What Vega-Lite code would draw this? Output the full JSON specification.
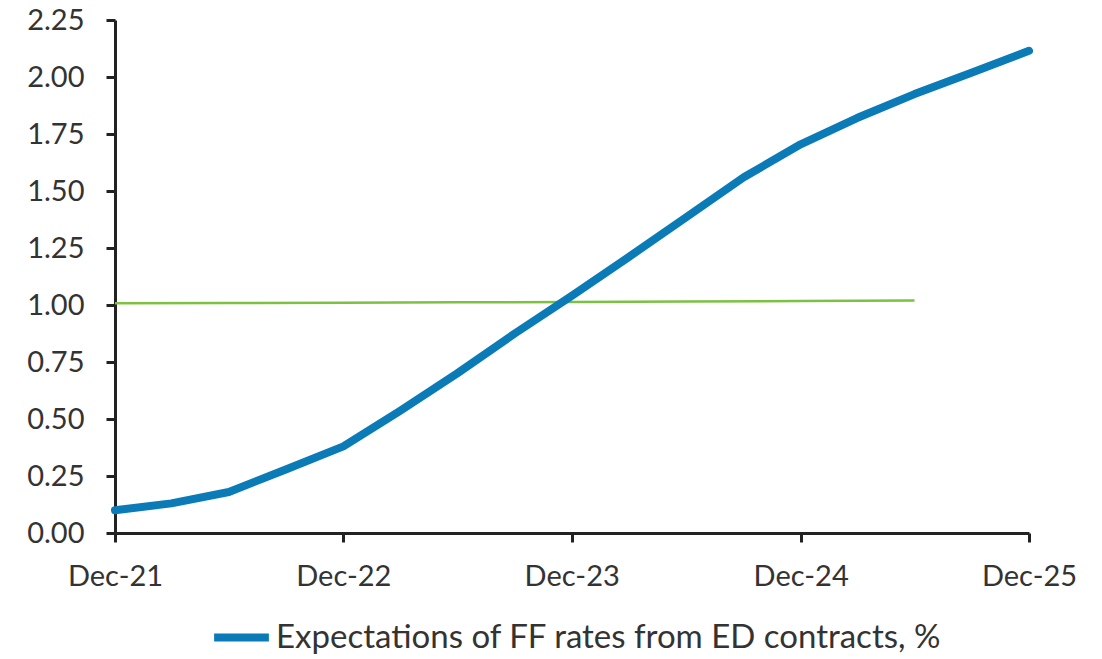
{
  "$schema": "https://vega.github.io/schema/vega-lite/v6.json",
  "width": 914,
  "height": 513,
  "autosize": {"type": "none"},
  "padding": {"left": 115, "top": 20, "right": 73, "bottom": 126},
  "background": "white",
  "config": {
    "view": {"stroke": null},
    "font": "Lato",
    "axis": {
      "domainColor": "#222222",
      "domainWidth": 3,
      "tickColor": "#222222",
      "tickWidth": 3,
      "tickSize": 9,
      "labelColor": "#333333",
      "labelFont": "Lato",
      "labelFontSize": 29,
      "grid": false,
      "title": null
    }
  },
  "datasets": {
    "ff": [
      {"date": "2021-12-01", "rate": 0.10},
      {"date": "2022-03-01", "rate": 0.13},
      {"date": "2022-06-01", "rate": 0.18},
      {"date": "2022-09-01", "rate": 0.28},
      {"date": "2022-12-01", "rate": 0.38},
      {"date": "2023-03-01", "rate": 0.535},
      {"date": "2023-06-01", "rate": 0.70},
      {"date": "2023-09-01", "rate": 0.875},
      {"date": "2023-12-01", "rate": 1.04},
      {"date": "2024-03-01", "rate": 1.21},
      {"date": "2024-06-01", "rate": 1.385},
      {"date": "2024-09-01", "rate": 1.56},
      {"date": "2024-12-01", "rate": 1.705},
      {"date": "2025-03-01", "rate": 1.82},
      {"date": "2025-06-01", "rate": 1.925},
      {"date": "2025-09-01", "rate": 2.02},
      {"date": "2025-12-01", "rate": 2.115}
    ],
    "ref": [
      {"date": "2021-12-01", "level": 1.008},
      {"date": "2022-06-01", "level": 1.009},
      {"date": "2022-12-01", "level": 1.010},
      {"date": "2023-06-01", "level": 1.012},
      {"date": "2023-12-01", "level": 1.013},
      {"date": "2024-06-01", "level": 1.015},
      {"date": "2024-12-01", "level": 1.017},
      {"date": "2025-06-01", "level": 1.020}
    ]
  },
  "layer": [
    {
      "data": {"name": "ref"},
      "mark": {"type": "line", "color": "#7cc142", "strokeWidth": 2.5},
      "encoding": {
        "x": {"field": "date", "type": "temporal"},
        "y": {"field": "level", "type": "quantitative"}
      }
    },
    {
      "data": {"name": "ff"},
      "mark": {"type": "line", "strokeWidth": 8, "strokeCap": "round", "strokeJoin": "round"},
      "encoding": {
        "x": {
          "field": "date",
          "type": "temporal",
          "scale": {"domain": ["2021-12-01", "2025-12-01"]},
          "axis": {
            "values": ["2021-12-01", "2022-12-01", "2023-12-01", "2024-12-01", "2025-12-01"],
            "format": "%b-%y",
            "labelPadding": 20,
            "labelFlush": false
          }
        },
        "y": {
          "field": "rate",
          "type": "quantitative",
          "scale": {"domain": [0, 2.25], "nice": false},
          "axis": {
            "values": [0, 0.25, 0.5, 0.75, 1, 1.25, 1.5, 1.75, 2, 2.25],
            "format": ".2f",
            "labelPadding": 22
          }
        },
        "color": {
          "datum": "Expectations of FF rates from ED contracts, %",
          "type": "nominal",
          "scale": {"range": ["#0a7bb6"]},
          "legend": {
            "title": null,
            "orient": "none",
            "legendX": 95,
            "legendY": 586,
            "symbolType": "stroke",
            "symbolStrokeWidth": 8,
            "symbolSize": 3000,
            "labelFont": "Lato",
            "labelFontSize": 33,
            "labelColor": "#333333",
            "labelOffset": 3,
            "labelLimit": 900
          }
        }
      }
    }
  ]
}
